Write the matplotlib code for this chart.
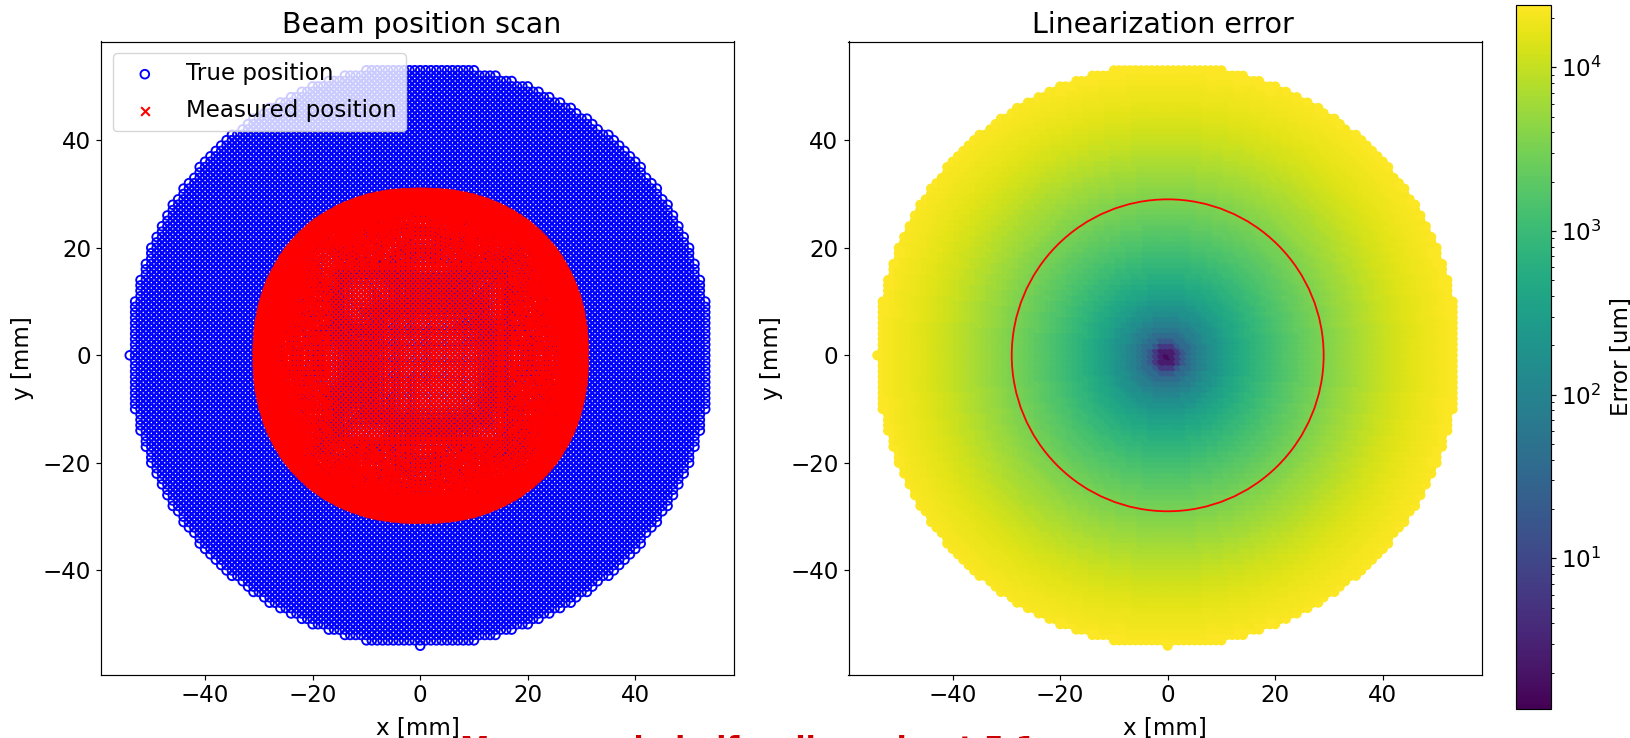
import numpy as np
import matplotlib
matplotlib.use("Agg")
import matplotlib.pyplot as plt
from matplotlib.colors import LogNorm

W, H = 1630, 738

# Scan grid (1 mm pitch, disk of 54 mm)
scan_first = -54
scan_last = 53
scan_radius = 54
half_radius = 29
inner_box = 18

# Linearization error [um] read at each whole radius 0..54 mm
error_by_radius = [1.5, 2.5, 6, 18, 38, 60, 85, 110, 150, 190, 240, 300, 370, 440, 520,
                   610, 710, 820, 940, 1080, 1230, 1390, 1570, 1760, 1970, 2200, 2450,
                   2720, 3020, 3340, 3700, 4100, 4540, 5020, 5540, 6100, 6700, 7350,
                   8050, 8900, 9800, 10700, 11600, 12600, 13500, 14500, 15400, 16400,
                   17400, 18400, 19300, 20300, 21300, 22300, 23300]
# Four-fold angular factor, read every 3 degrees from axis to diagonal
angle_factor = [1.02, 1.02, 1.017, 1.014, 1.011, 1.007, 1.003, 1.0,
                0.996, 0.992, 0.989, 0.986, 0.983, 0.981, 0.98, 0.98]

title_left = "Beam position scan"
title_right = "Linearization error"
legend_true = "True position"
legend_meas = "Measured position"
x_label = "x [mm]"
y_label = "y [mm]"
cbar_label = "Error [um]"
bottom_note = "Max error in half radius: about 5.1 mm"
error_min, error_max = 1.2, 24000

axis_vals = np.arange(scan_first, scan_last + 1)
gx, gy = np.meshgrid(axis_vals, axis_vals)
keep = np.hypot(gx, gy) <= scan_radius
x_true = gx[keep].astype(float)
y_true = gy[keep].astype(float)

r = np.hypot(x_true, y_true)
r_key = np.rint(r).astype(int)
theta = np.degrees(np.arctan2(np.abs(y_true), np.abs(x_true)))
theta = np.minimum(theta, 90 - theta)
factor = np.asarray(angle_factor)[np.rint(theta / 3).astype(int)]
table = np.asarray(error_by_radius, dtype=float)
err = table[r_key] * factor

# Outside the central box: the measured radius
safe_r = np.where(r > 0, r, 1)
outer_scale = (r_key - err / 1000) / safe_r
# Inside the central box: a square-ringed grid, as the picture shows
cheb = np.maximum(np.abs(x_true), np.abs(y_true)).astype(int)
inner_scale = 1 - table[cheb] / 1000 / np.where(cheb > 0, cheb, 1)
scale = np.where(cheb <= inner_box, inner_scale, outer_scale)
x_meas = x_true * scale
y_meas = y_true * scale

plt.rcParams.update({
    "font.size": 16.6,
    "axes.linewidth": 0.85,
    "xtick.major.size": 3.7, "ytick.major.size": 3.7,
    "xtick.major.width": 0.85, "ytick.major.width": 0.85,
    "ytick.minor.size": 2.1, "ytick.minor.width": 0.65,
})
fig = plt.figure(figsize=(W / 100, H / 100), dpi=100)


def box(x0, x1, y0, y1):
    return [x0 / W, 1 - y1 / H, (x1 - x0) / W, (y1 - y0) / H]


ax1 = fig.add_axes(box(101, 734, 41.5, 674.5))
ax2 = fig.add_axes(box(848.5, 1481.5, 41.5, 674.5))
cax = fig.add_axes(box(1516, 1551, 5, 709))

ax1.scatter(x_true, y_true, s=39, linewidths=1.35, facecolors="none",
            edgecolors="blue", label=legend_true)
ax1.scatter(x_meas, y_meas, marker="x", color="red", s=39, linewidths=1.5,
            label=legend_meas)
ax1.set_title(title_left, fontsize=20.5, x=0.507)
ax1.set_xlabel(x_label, labelpad=6.5)
ax1.set_ylabel(y_label, labelpad=6)
ax1.legend(loc="upper left", labelspacing=0.6)
ax1.set_aspect("equal", adjustable="box")

sc = ax2.scatter(x_true, y_true, s=39, c=err, cmap="viridis",
                 norm=LogNorm(vmin=error_min, vmax=error_max))
ax2.add_patch(plt.Circle((0, 0), half_radius, fill=False, color="red", lw=1.3))
ax2.set_title(title_right, fontsize=20.5, x=0.497)
ax2.set_xlabel(x_label, labelpad=6.5)
ax2.set_ylabel(y_label, labelpad=5)
ax2.set_aspect("equal", adjustable="box")

cb = fig.colorbar(sc, cax=cax)
cb.set_label(cbar_label, labelpad=6)

fig.text(460 / W, 1 - 735.5 / H, bottom_note, color="#cc0000", fontsize=21.3,
         fontweight="bold", ha="left", va="top")

fig.savefig("out.png", dpi=100)
